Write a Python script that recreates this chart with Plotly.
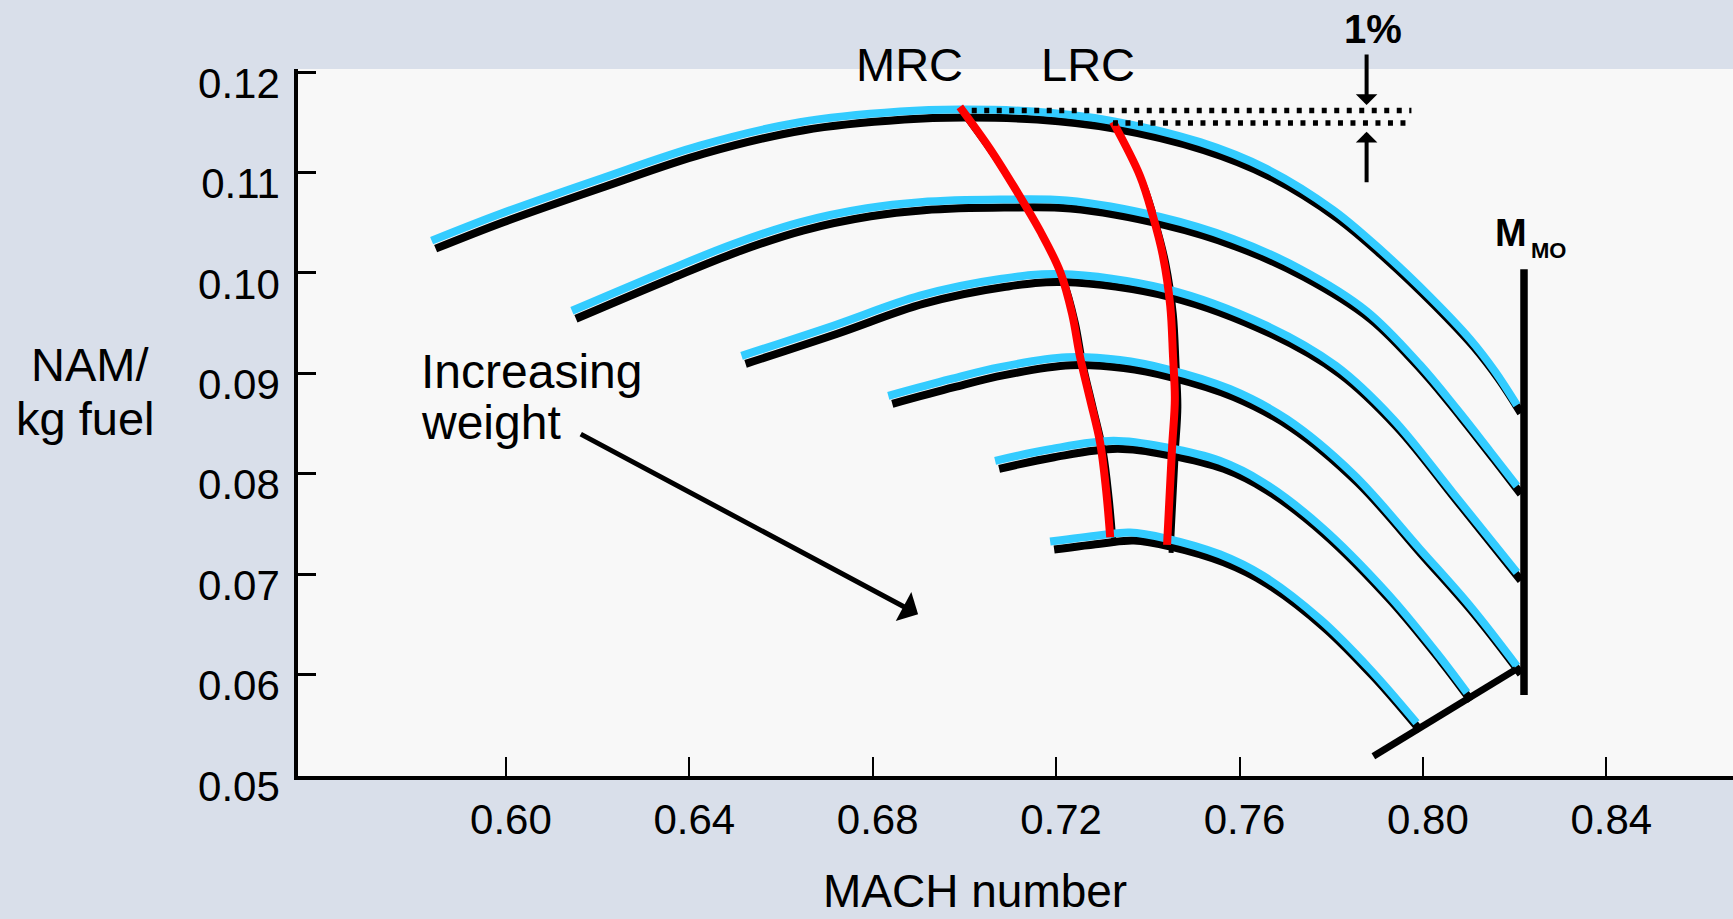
import plotly.graph_objects as go

# ---------------- data ----------------
MACH_TICKS = [0.60, 0.64, 0.68, 0.72, 0.76, 0.80, 0.84]
NAM_TICKS = [0.05, 0.06, 0.07, 0.08, 0.09, 0.10, 0.11, 0.12]

# specific range curves, lightest weight (top) to heaviest (bottom)
W1_MACH = [0.5838, 0.5987, 0.6205, 0.6423, 0.6641, 0.6860, 0.6990, 0.7150, 0.7318,
           0.7514, 0.7659, 0.7804, 0.7913, 0.8016, 0.8103, 0.8157, 0.8205]
W1_NAM = [0.10322, 0.10588, 0.10937, 0.11269, 0.11502, 0.11608, 0.11628, 0.11608, 0.11518,
          0.11303, 0.11037, 0.10628, 0.10209, 0.09761, 0.09340, 0.09021, 0.08684]

W2_MACH = [0.6144, 0.6351, 0.6496, 0.6641, 0.6787, 0.6903, 0.7078, 0.7223, 0.7427,
           0.7586, 0.7732, 0.7877, 0.7994, 0.8074, 0.8146, 0.8205]
W2_NAM = [0.09624, 0.10023, 0.10289, 0.10505, 0.10645, 0.10705, 0.10731, 0.10721, 0.10558,
          0.10339, 0.10040, 0.09621, 0.09083, 0.08644, 0.08226, 0.07879]

W3_MACH = [0.6514, 0.6714, 0.6903, 0.7078, 0.7208, 0.7441, 0.7659, 0.7810, 0.7935,
           0.8066, 0.8205]
W3_NAM = [0.09175, 0.09475, 0.09774, 0.09940, 0.09990, 0.09840, 0.09475, 0.09076, 0.08544,
          0.07807, 0.07016]

W4_MACH = [0.6834, 0.6969, 0.7078, 0.7223, 0.7339, 0.7441, 0.7579, 0.7703, 0.7848,
           0.7994, 0.8103, 0.8205]
W4_NAM = [0.08777, 0.08943, 0.09063, 0.09160, 0.09133, 0.09043, 0.08844, 0.08544, 0.07996,
          0.07248, 0.06683, 0.06085]

W5_MACH = [0.7067, 0.7187, 0.7325, 0.7441, 0.7557, 0.7652, 0.7776, 0.7921, 0.8030, 0.8096]
W5_NAM = [0.08129, 0.08245, 0.08328, 0.08262, 0.08129, 0.07913, 0.07481, 0.06817, 0.06218, 0.05820]

W6_MACH = [0.7187, 0.7296, 0.7361, 0.7441, 0.7557, 0.7652, 0.7776, 0.7885, 0.7986]
W6_NAM = [0.07325, 0.07388, 0.07415, 0.07355, 0.07198, 0.06982, 0.06550, 0.06052, 0.05520]

CURVES = [(W1_MACH, W1_NAM), (W2_MACH, W2_NAM), (W3_MACH, W3_NAM),
          (W4_MACH, W4_NAM), (W5_MACH, W5_NAM), (W6_MACH, W6_NAM)]

# maximum range cruise and long range cruise lines
MRC_MACH = [0.6990, 0.7056, 0.7115, 0.7165, 0.7209, 0.7235, 0.7252, 0.7274, 0.7296, 0.7309, 0.7318]
MRC_NAM = [0.11655, 0.11236, 0.10808, 0.10419, 0.10010, 0.09591, 0.09170, 0.08744, 0.08309,
           0.07841, 0.07368]
LRC_MACH = [0.7324, 0.7383, 0.7411, 0.7433, 0.7449, 0.7455, 0.7459, 0.7453, 0.7442]
LRC_NAM = [0.11505, 0.10967, 0.10568, 0.10170, 0.09671, 0.09170, 0.08744, 0.08269, 0.07292]

# 1 % reference levels
MAXNAM_MACH = [0.7016, 0.7975]
MAXNAM_NAM = [0.11618, 0.11618]
LRCNAM_MACH = [0.7324, 0.7976]
LRCNAM_NAM = [0.11493, 0.11493]

# limits
MMO_MACH = [0.82205, 0.82205]
MMO_NAM = [0.10037, 0.05797]
LIMIT_MACH = [0.7892, 0.8203]
LIMIT_NAM = [0.05187, 0.06052]

# "increasing weight" arrow (tail, head)
WEIGHT_ARROW_MACH = [0.6160, 0.6899]
WEIGHT_ARROW_NAM = [0.08403, 0.06601]

# ---------------- layout constants ----------------
W, H = 1733, 919
ML, MR, MT, MB = 298, 0, 69, 143
X_RANGE = [0.554656, 0.867633]
Y_RANGE = [0.0499, 0.120318]
PX_X = (W - ML - MR) / (X_RANGE[1] - X_RANGE[0])
PX_Y = (H - MT - MB) / (Y_RANGE[1] - Y_RANGE[0])
SHADOW_DX, SHADOW_DY = 4, 8  # pixel offset of the black shadow lines
X2_RANGE = [X_RANGE[0] - SHADOW_DX / PX_X, X_RANGE[1] - SHADOW_DX / PX_X]
Y2_RANGE = [Y_RANGE[0] + SHADOW_DY / PX_Y, Y_RANGE[1] + SHADOW_DY / PX_Y]

FONT = "Liberation Sans, Arial, Helvetica, sans-serif"
BLUE = "#33ccff"
RED = "#ff0000"


def paper_x(px):
    return (px - ML) / (W - ML - MR)


def paper_y(py):
    return (H - MB - py) / (H - MT - MB)


fig = go.Figure()

# shadows (bottom overlay)
for mx, ny in CURVES:
    fig.add_trace(go.Scatter(x=mx, y=ny, mode="lines", xaxis="x2", yaxis="y2",
                             line=dict(color="black", width=8, shape="spline"),
                             hoverinfo="skip", showlegend=False))
for mx, ny in [(MRC_MACH, MRC_NAM), (LRC_MACH, LRC_NAM)]:
    fig.add_trace(go.Scatter(x=mx, y=ny, mode="lines", xaxis="x2", yaxis="y2",
                             line=dict(color="black", width=5, shape="spline"),
                             hoverinfo="skip", showlegend=False))

# main coloured lines (top overlay)
for mx, ny in CURVES:
    fig.add_trace(go.Scatter(x=mx, y=ny, mode="lines", xaxis="x3", yaxis="y3",
                             line=dict(color=BLUE, width=8, shape="spline"),
                             hoverinfo="skip", showlegend=False))
for mx, ny in [(MRC_MACH, MRC_NAM), (LRC_MACH, LRC_NAM)]:
    fig.add_trace(go.Scatter(x=mx, y=ny, mode="lines", xaxis="x3", yaxis="y3",
                             line=dict(color=RED, width=8, shape="spline"),
                             hoverinfo="skip", showlegend=False))
for mx, ny in [(MAXNAM_MACH, MAXNAM_NAM), (LRCNAM_MACH, LRCNAM_NAM)]:
    fig.add_trace(go.Scatter(x=mx, y=ny, mode="lines", xaxis="x3", yaxis="y3",
                             line=dict(color="black", width=5.5, dash="5px,7.5px"),
                             hoverinfo="skip", showlegend=False))
fig.add_trace(go.Scatter(x=MMO_MACH, y=MMO_NAM, mode="lines", xaxis="x3", yaxis="y3",
                         line=dict(color="black", width=7.5), hoverinfo="skip", showlegend=False))
fig.add_trace(go.Scatter(x=LIMIT_MACH, y=LIMIT_NAM, mode="lines", xaxis="x3", yaxis="y3",
                         line=dict(color="black", width=7), hoverinfo="skip", showlegend=False))

axis_font = dict(family=FONT, size=42, color="black")
fig.update_layout(
    width=W, height=H,
    margin=dict(l=ML, r=MR, t=MT, b=MB, pad=0),
    paper_bgcolor="#d9dfea",
    plot_bgcolor="#f8f8f8",
    showlegend=False,
    xaxis=dict(range=X_RANGE, tickvals=MACH_TICKS, ticktext=[f"{v:.2f}" for v in MACH_TICKS],
               ticks="inside", ticklen=19, tickwidth=2, tickcolor="black",
               showline=True, linewidth=3.5, linecolor="black", showgrid=False, zeroline=False,
               tickfont=axis_font, ticklabelstandoff=4, ticklabelshift=5, fixedrange=True),
    yaxis=dict(range=Y_RANGE, tickvals=NAM_TICKS, ticktext=[f"{v:.2f}" for v in NAM_TICKS],
               ticks="inside", ticklen=18, tickwidth=2.5, tickcolor="black",
               showline=True, linewidth=3.5, linecolor="black", showgrid=False, zeroline=False,
               tickfont=axis_font, ticklabelstandoff=6, ticklabelshift=11, fixedrange=True),
    xaxis2=dict(range=X2_RANGE, overlaying="x", visible=False, fixedrange=True),
    yaxis2=dict(range=Y2_RANGE, overlaying="y", visible=False, fixedrange=True),
    xaxis3=dict(range=X_RANGE, overlaying="x", visible=False, fixedrange=True),
    yaxis3=dict(range=Y_RANGE, overlaying="y", visible=False, fixedrange=True),
)


def txt(text, px, py, size, xanchor="center"):
    return dict(text=text, x=paper_x(px), y=paper_y(py), xref="paper", yref="paper",
                xanchor=xanchor, yanchor="middle", showarrow=False,
                font=dict(family=FONT, size=size, color="black"))


def pixel_arrow(px, py, tail_dy, width, size):
    return dict(text="", x=paper_x(px), y=paper_y(py), xref="paper", yref="paper",
                ax=0, ay=tail_dy, axref="pixel", ayref="pixel",
                showarrow=True, arrowhead=1, arrowsize=size, arrowwidth=width,
                arrowcolor="black", standoff=0)


annotations = [
    txt("MRC", 909.6, 64.2, 47),
    txt("LRC", 1088, 64.2, 47),
    txt("<b>1%</b>", 1372.5, 29.2, 40),
    txt("<b>M</b>", 1511.1, 233.3, 38),
    txt("<b>MO</b>", 1548.5, 250.8, 22),
    txt("Increasing", 419, 371, 48, xanchor="left"),
    txt("weight", 419, 422, 48, xanchor="left"),
    txt("NAM/", 89.8, 364.9, 47),
    txt("kg fuel", 85, 418.2, 47),
    txt("MACH number", 975, 891, 46),
    dict(text="", x=WEIGHT_ARROW_MACH[1], y=WEIGHT_ARROW_NAM[1],
         ax=WEIGHT_ARROW_MACH[0], ay=WEIGHT_ARROW_NAM[0],
         xref="x", yref="y", axref="x", ayref="y", showarrow=True, arrowhead=1,
         arrowsize=1.1, arrowwidth=5, arrowcolor="black", standoff=0),
    pixel_arrow(1366.6, 105, -52, 4, 0.9),
    pixel_arrow(1366.6, 131.7, 52, 4, 0.9),
]
fig.update_layout(annotations=annotations)

fig.write_html("out.html", config={"displayModeBar": False},
               post_script="document.body.style.margin='0';document.body.style.overflow='hidden';")
